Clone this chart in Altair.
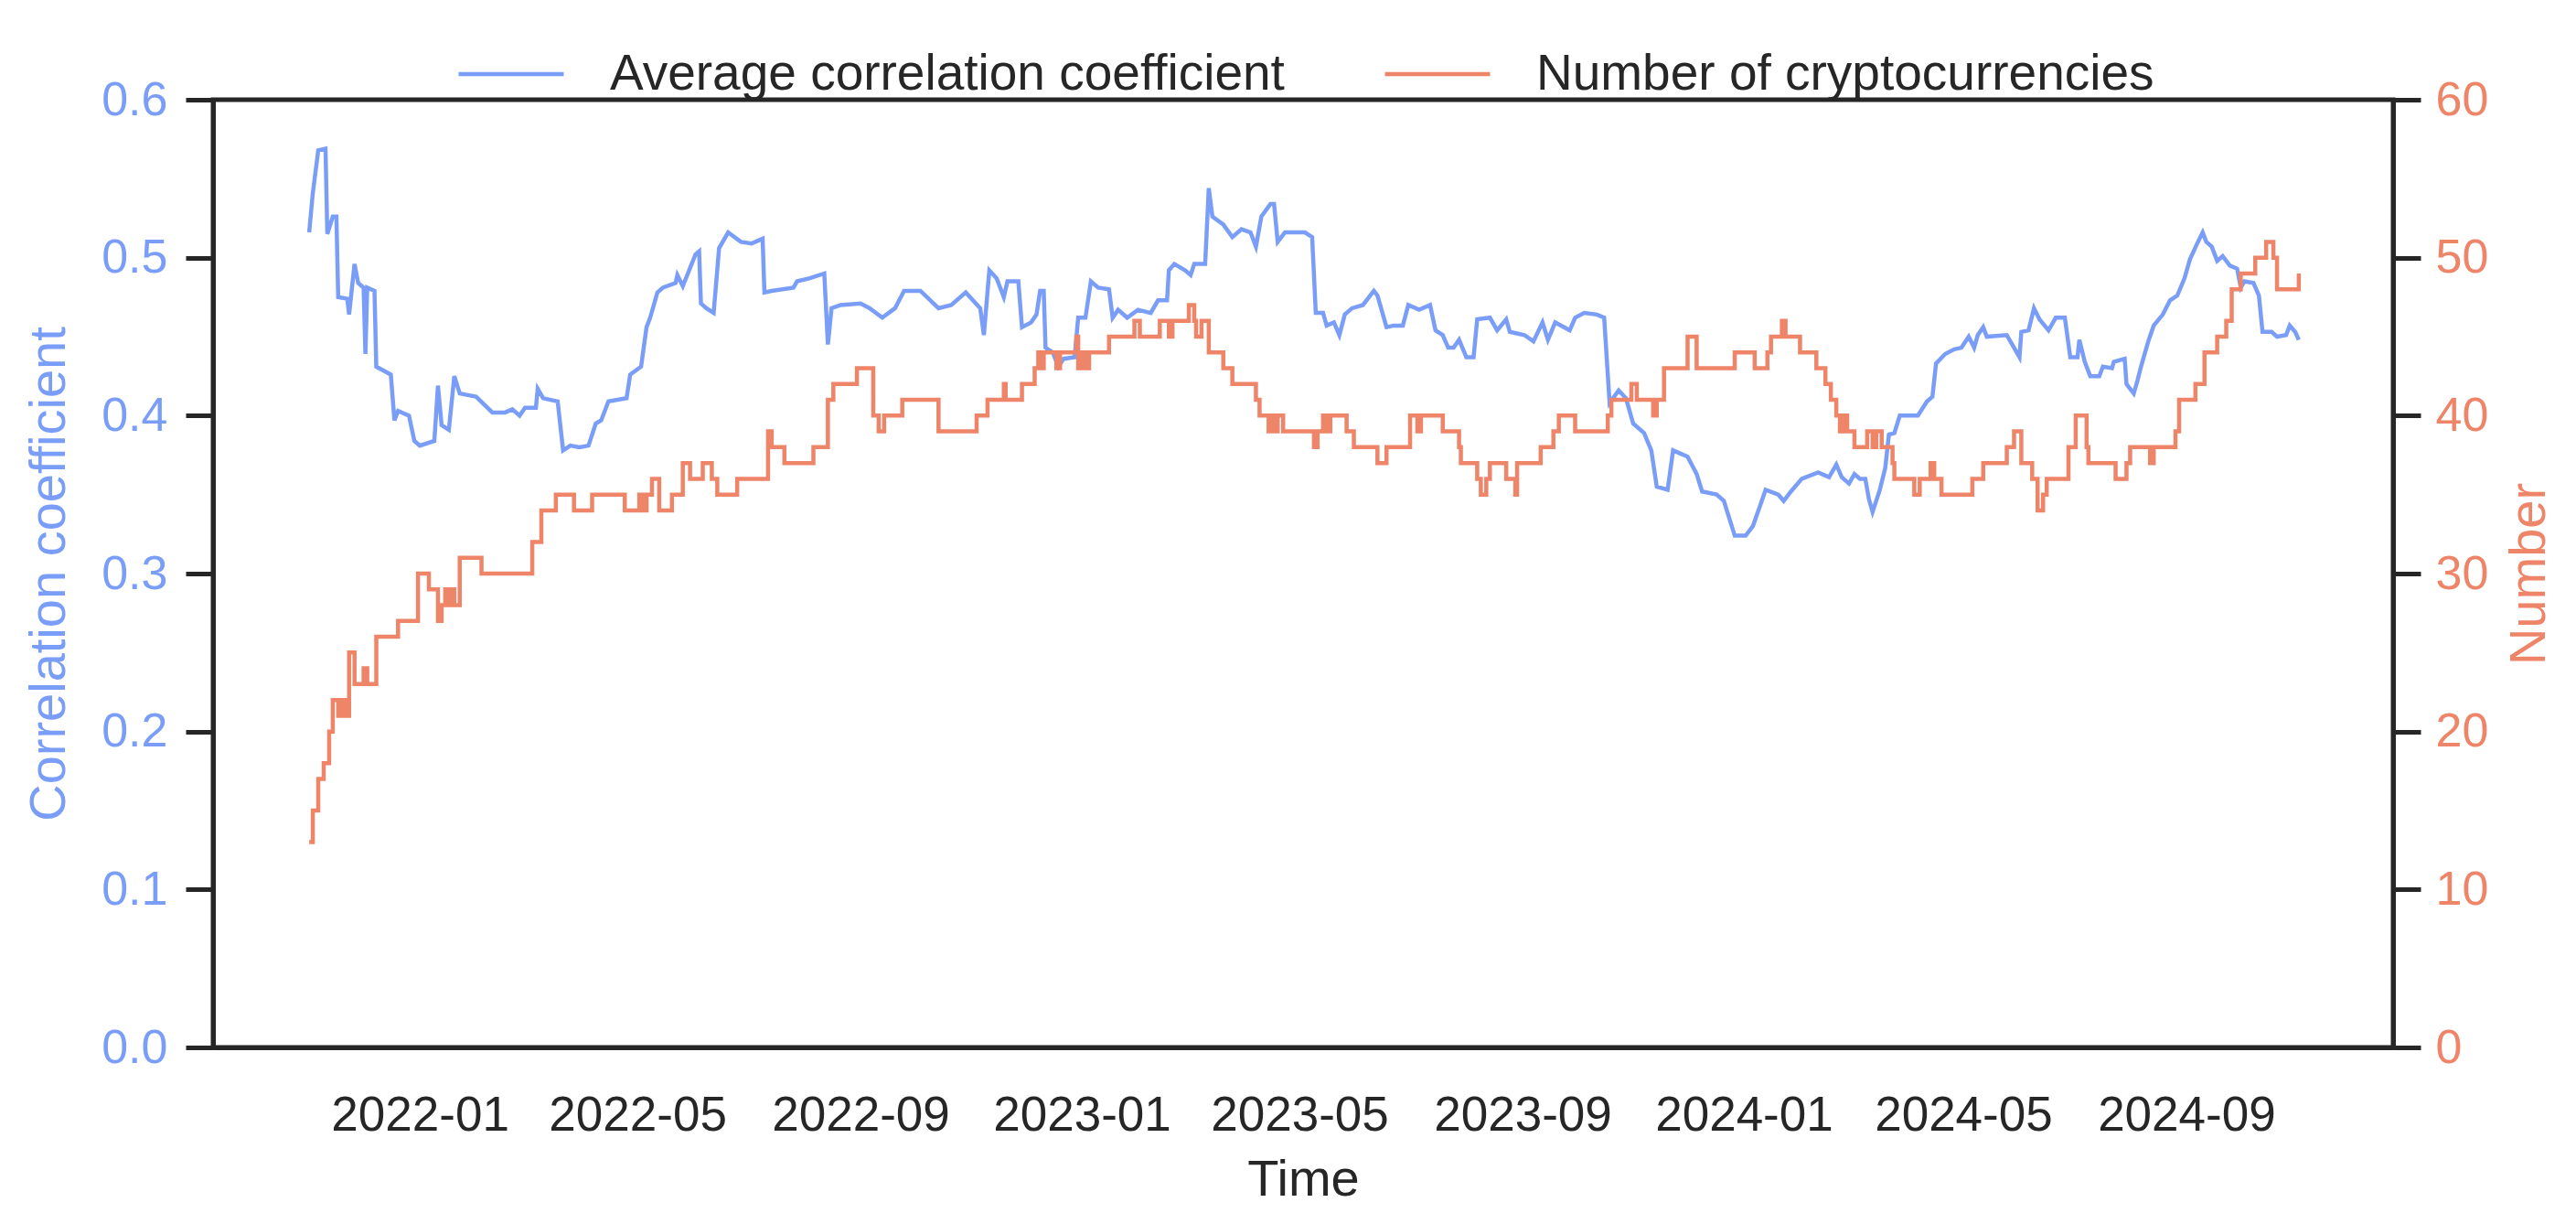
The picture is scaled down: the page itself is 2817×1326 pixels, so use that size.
import altair as alt
import pandas as pd

# ---------------- data ----------------
START = "2021-11-01"  # day 0 of the day offsets below

corr_day = [0, 2, 5, 9, 10, 13, 15, 16, 21, 22, 25, 27, 30, 31, 32, 36, 37, 45, 47, 49,
            55, 58, 61, 69, 71, 73, 77, 80, 83, 92, 101, 108, 112, 116, 119, 125, 126, 129, 137, 140,
            144, 149, 154, 158, 161, 165, 175, 177, 183, 186, 188, 192, 195, 202, 203, 206, 213, 215, 216, 219,
            223, 226, 231, 238, 244, 250, 251, 255, 267, 269, 276,
            284, 286, 288, 293, 304, 309, 316, 323, 328, 337, 347, 354, 362, 370, 372, 375, 379, 383, 385,
            391, 393, 398, 401, 403, 405, 406, 410, 413, 416, 422, 424, 428, 431, 435, 441, 443, 446, 451,
            457, 464, 468, 473, 474, 477, 483, 486, 488, 494, 496, 498, 504, 509, 514, 519, 522, 525, 530,
            532, 534, 538, 549, 553, 555, 559, 561, 565,
            568, 571, 575, 581, 587, 589, 594, 598, 603, 606, 612, 618, 621, 625, 628, 631, 634, 638, 642,
            644, 651, 655, 660, 662, 670, 675, 680, 683, 687, 695, 698, 703, 710, 714, 717, 722, 726, 730,
            736, 740, 743, 749, 752, 760, 765, 768, 776, 780, 786, 792, 796, 800, 803, 810, 813, 817, 823,
            832, 838, 842, 845, 849, 852, 855,
            858, 860, 862, 866, 869, 871, 874, 877, 887, 892, 895, 897, 902, 907, 911, 915, 918, 920, 923,
            925, 936, 943, 944, 948, 951, 954, 959, 963, 968, 971, 975, 976, 979, 982, 987, 989, 994, 995,
            1001, 1002, 1006, 1008, 1010, 1014, 1017, 1022, 1026, 1030, 1034, 1037, 1041, 1044, 1046, 1049,
            1052, 1055, 1059, 1063, 1065, 1067, 1072, 1075, 1077, 1082, 1085, 1090, 1092, 1095, 1097]
corr_val = [0.516, 0.541, 0.568, 0.569, 0.515, 0.526, 0.526, 0.475, 0.474, 0.464, 0.496, 0.484, 0.481, 0.439, 0.481, 0.479, 0.431, 0.426, 0.397, 0.403,
            0.400, 0.384, 0.381, 0.384, 0.419, 0.394, 0.391, 0.425, 0.414, 0.412, 0.402, 0.402, 0.404, 0.400, 0.405, 0.405, 0.417, 0.411, 0.409, 0.378,
            0.381, 0.380, 0.381, 0.395, 0.397, 0.409, 0.411, 0.426, 0.431, 0.456, 0.462, 0.478, 0.481, 0.484, 0.489, 0.482, 0.502, 0.504, 0.471, 0.468,
            0.465, 0.506, 0.516, 0.510, 0.509, 0.512, 0.478, 0.479, 0.481, 0.485, 0.487,
            0.490, 0.445, 0.468, 0.470, 0.471, 0.468, 0.462, 0.468, 0.479, 0.479, 0.468, 0.470, 0.478, 0.468, 0.451, 0.492, 0.487, 0.475, 0.485,
            0.485, 0.456, 0.459, 0.464, 0.479, 0.479, 0.443, 0.440, 0.431, 0.436, 0.437, 0.462, 0.462, 0.485, 0.481, 0.480, 0.462, 0.467, 0.462,
            0.467, 0.465, 0.473, 0.473, 0.492, 0.496, 0.492, 0.489, 0.496, 0.496, 0.544, 0.526, 0.521, 0.513, 0.518, 0.516, 0.507, 0.526, 0.534,
            0.534, 0.510, 0.516, 0.516, 0.513, 0.465, 0.465, 0.457, 0.459,
            0.451, 0.464, 0.468, 0.470, 0.479, 0.476, 0.456, 0.457, 0.457, 0.470, 0.467, 0.470, 0.454, 0.451, 0.443, 0.443, 0.448, 0.437, 0.437,
            0.461, 0.462, 0.454, 0.461, 0.453, 0.451, 0.447, 0.459, 0.448, 0.459, 0.454, 0.462, 0.465, 0.464, 0.462, 0.408, 0.416, 0.411, 0.395,
            0.389, 0.378, 0.355, 0.353, 0.378, 0.374, 0.363, 0.352, 0.350, 0.346, 0.324, 0.324, 0.330, 0.343, 0.353, 0.350, 0.346, 0.352, 0.360,
            0.364, 0.361, 0.369, 0.361, 0.357, 0.363, 0.360,
            0.360, 0.347, 0.339, 0.353, 0.367, 0.388, 0.389, 0.400, 0.400, 0.409, 0.412, 0.433, 0.439, 0.442, 0.443, 0.450, 0.443, 0.451, 0.456,
            0.450, 0.451, 0.437, 0.453, 0.454, 0.468, 0.461, 0.454, 0.462, 0.462, 0.437, 0.437, 0.448, 0.434, 0.425, 0.425, 0.431, 0.430, 0.434,
            0.436, 0.420, 0.414, 0.422, 0.431, 0.447, 0.457, 0.464, 0.473, 0.476, 0.487, 0.499, 0.509, 0.516, 0.510, 0.507,
            0.498, 0.501, 0.495, 0.493, 0.481, 0.485, 0.484, 0.476, 0.453, 0.453, 0.450, 0.451, 0.457, 0.453, 0.448]

# step changes of the number of cryptocurrencies (value holds until next change)
num_day = [0, 2, 5, 8, 11, 13, 16, 18, 20, 22, 25, 30, 32, 37, 49, 60, 66, 71, 73, 75,
           77, 79, 80, 83, 95, 123, 128, 136, 146, 156, 174, 182, 184, 186, 189, 193, 200, 206, 210, 217,
           222, 225, 236, 253, 255, 262, 278,
           286, 289, 302, 311, 314, 317, 327, 347, 368, 374, 383, 384, 393, 400, 402, 403, 405, 412, 414,
           423, 424, 426, 428, 430, 441, 455, 458, 469, 474, 476, 485, 488, 489, 492, 496, 504, 509, 522,
           524, 529, 531, 533, 534, 537, 554, 556, 559, 561, 563, 572, 576,
           589, 594, 607, 611, 613, 625, 634, 635, 644, 646, 649, 651, 660, 665, 666, 679, 686, 689, 698,
           716, 718, 729, 732, 741, 743, 747, 760, 765, 786, 797, 804, 806, 812, 814, 822, 831, 836, 839,
           842, 844, 846, 848, 852, 859,
           862, 864, 867, 873, 874, 885, 888, 894, 896, 900, 917, 923, 936, 940, 944, 950, 953, 956, 958,
           970, 974, 980, 981, 996, 1002, 1004, 1015, 1017, 1029, 1031, 1040, 1045, 1052, 1057, 1060, 1065,
           1073, 1079, 1083, 1085, 1097]
num_val = [13, 15, 17, 18, 20, 22, 21, 22, 21, 25, 23, 24, 23, 26, 27, 30, 29, 27, 28, 29,
           28, 29, 28, 31, 30, 32, 34, 35, 34, 35, 34, 35, 34, 35, 36, 34, 35, 37, 36, 37,
           36, 35, 36, 39, 38, 37, 38,
           41, 42, 43, 40, 39, 40, 41, 39, 40, 41, 42, 41, 42, 43, 44, 43, 44, 43, 44,
           45, 43, 44, 43, 44, 45, 46, 45, 46, 45, 46, 47, 46, 45, 46, 44, 43, 42, 41,
           40, 39, 40, 39, 40, 39, 38, 39, 40, 39, 40, 39, 38,
           37, 38, 40, 39, 40, 39, 38, 37, 36, 35, 36, 37, 36, 35, 37, 38, 39, 40, 39,
           40, 41, 42, 41, 40, 41, 43, 45, 43, 44, 43, 44, 45, 46, 45, 44, 43, 42, 41,
           40, 39, 40, 39, 38, 39,
           38, 39, 38, 37, 36, 35, 36, 37, 36, 35, 36, 37, 38, 39, 37, 36, 34, 35, 36,
           38, 40, 38, 37, 36, 37, 38, 37, 38, 39, 41, 42, 44, 45, 46, 48, 49,
           50, 51, 50, 48, 49]

x_tick_months = [(2022, 1), (2022, 5), (2022, 9), (2023, 1), (2023, 5),
                 (2023, 9), (2024, 1), (2024, 5), (2024, 9)]
x_domain = [(2021, 9, 9), (2024, 12, 24)]
corr_ticks = [0.0, 0.1, 0.2, 0.3, 0.4, 0.5, 0.6]
num_ticks = [0, 10, 20, 30, 40, 50, 60]
series_names = ["Average correlation coefficient", "Number of cryptocurrencies"]

# ---------------- styling ----------------
BLUE = "#7a9ef8"
RED = "#ee8468"
DARK = "#262626"
FONT = "Liberation Sans"
LINE_W = 4.5
SPINE_W = 5


def to_dates(days):
    return (pd.Timestamp(START) + pd.to_timedelta(days, unit="D")).strftime("%Y-%m-%d").tolist()


corr_df = pd.DataFrame({"date": to_dates(corr_day), "value": corr_val, "series": series_names[0]})
num_df = pd.DataFrame({"date": to_dates(num_day), "value": num_val, "series": series_names[1]})

x_enc = alt.X(
    "date:T",
    scale=alt.Scale(
        type="utc",
        domain=[alt.DateTime(year=y, month=m, date=d, utc=True) for (y, m, d) in x_domain],
    ),
    axis=alt.Axis(
        values=[alt.DateTime(year=y, month=m, date=1, utc=True) for (y, m) in x_tick_months],
        labelExpr="utcFormat(datum.value, '%Y-%m')",
        ticks=False,
        tickSize=0,
        labelPadding=48,
        labelFontSize=53,
        labelLimit=0,
        labelColor=DARK,
        labelAngle=0,
        labelOverlap=False,
        domainColor=DARK,
        domainWidth=SPINE_W,
        title="Time",
        titleFontSize=56,
        titleFontWeight="normal",
        titleColor=DARK,
        titlePadding=16,
        grid=False,
    ),
)

color_enc = alt.Color(
    "series:N",
    scale=alt.Scale(domain=series_names, range=[BLUE, RED]),
    legend=alt.Legend(
        orient="none",
        legendX=266,
        legendY=-88,
        direction="horizontal",
        columns=2,
        title=None,
        symbolType="stroke",
        symbolSize=13225,
        symbolStrokeWidth=4.5,
        labelFontSize=55,
        labelFont=FONT,
        labelColor=DARK,
        labelOffset=48,
        labelLimit=0,
        columnPadding=100,
        padding=0,
    ),
)

corr_line = alt.Chart(corr_df).mark_line(strokeWidth=LINE_W, interpolate="linear").encode(
    x=x_enc,
    y=alt.Y(
        "value:Q",
        scale=alt.Scale(domain=[0, 0.6], nice=False, zero=True),
        axis=alt.Axis(
            orient="left",
            values=corr_ticks,
            format=".1f",
            tickSize=30,
            tickWidth=SPINE_W,
            tickColor=DARK,
            domainColor=DARK,
            domainWidth=SPINE_W,
            labelPadding=20,
            labelFontSize=52,
            labelColor=BLUE,
            title="Correlation coefficient",
            titleFontSize=56,
            titleFontWeight="normal",
            titleColor=BLUE,
            titlePadding=28,
            grid=False,
        ),
    ),
    color=color_enc,
)

num_line = alt.Chart(num_df).mark_line(strokeWidth=LINE_W, interpolate="step-after").encode(
    x=x_enc,
    y=alt.Y(
        "value:Q",
        scale=alt.Scale(domain=[0, 60], nice=False, zero=True),
        axis=alt.Axis(
            orient="right",
            values=num_ticks,
            format="d",
            tickSize=30,
            tickWidth=SPINE_W,
            tickColor=DARK,
            domainColor=DARK,
            domainWidth=SPINE_W,
            labelPadding=16,
            labelFontSize=52,
            labelColor=RED,
            title="Number",
            titleAngle=270,
            titleBaseline="top",
            titleFontSize=56,
            titleFontWeight="normal",
            titleColor=RED,
            titlePadding=18,
            grid=False,
        ),
    ),
    color=color_enc,
)

chart = (
    alt.layer(corr_line, num_line)
    .resolve_scale(y="independent")
    .properties(
        width=2384,
        height=1036,
        autosize=alt.AutoSizeParams(type="none"),
        padding={"left": 225, "top": 101, "right": 192, "bottom": 173},
        background="white",
    )
    .configure_axis(labelFont=FONT, titleFont=FONT)
    .configure_view(stroke=DARK, strokeWidth=SPINE_W)
)

chart.save("out.html", embed_options={"renderer": "svg", "actions": False})
